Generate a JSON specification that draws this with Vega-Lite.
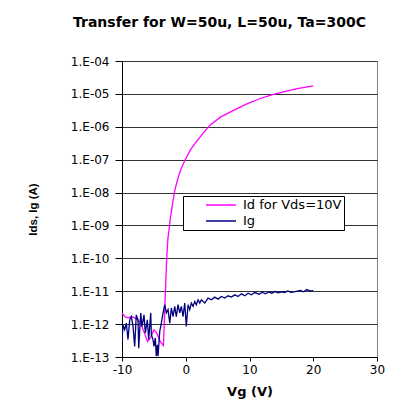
{
  "$schema": "https://vega.github.io/schema/vega-lite/v6.json",
  "width": 255,
  "height": 296,
  "autosize": {"type": "none"},
  "padding": {"left": 122, "top": 61, "right": 43, "bottom": 49},
  "background": "#ffffff",
  "title": {
    "text": "Transfer for W=50u, L=50u, Ta=300C",
    "font": "DejaVu Sans",
    "fontSize": 14,
    "fontWeight": "bold",
    "color": "#000000",
    "anchor": "middle",
    "frame": "group",
    "dx": -30,
    "offset": 14,
    "baseline": "alphabetic"
  },
  "data": {
    "values": [
      {"series": "Id for Vds=10V", "Vg": -10, "I": 2.19e-12},
      {"series": "Id for Vds=10V", "Vg": -9.5, "I": 1.66e-12},
      {"series": "Id for Vds=10V", "Vg": -9.0, "I": 1.55e-12},
      {"series": "Id for Vds=10V", "Vg": -8.5, "I": 1.70e-12},
      {"series": "Id for Vds=10V", "Vg": -8.0, "I": 1.55e-12},
      {"series": "Id for Vds=10V", "Vg": -7.5, "I": 1.35e-12},
      {"series": "Id for Vds=10V", "Vg": -7.0, "I": 9.55e-13},
      {"series": "Id for Vds=10V", "Vg": -6.5, "I": 5.50e-13},
      {"series": "Id for Vds=10V", "Vg": -6.0, "I": 2.95e-13},
      {"series": "Id for Vds=10V", "Vg": -5.5, "I": 3.89e-13},
      {"series": "Id for Vds=10V", "Vg": -5.0, "I": 6.76e-13},
      {"series": "Id for Vds=10V", "Vg": -4.5, "I": 5.13e-13},
      {"series": "Id for Vds=10V", "Vg": -4.0, "I": 2.95e-13},
      {"series": "Id for Vds=10V", "Vg": -3.5, "I": 2.24e-13},
      {"series": "Id for Vds=10V", "Vg": -3.3, "I": 2.51e-12},
      {"series": "Id for Vds=10V", "Vg": -3.0, "I": 8.91e-11},
      {"series": "Id for Vds=10V", "Vg": -2.8, "I": 3.98e-10},
      {"series": "Id for Vds=10V", "Vg": -2.6, "I": 7.94e-10},
      {"series": "Id for Vds=10V", "Vg": -2.45, "I": 1.48e-9},
      {"series": "Id for Vds=10V", "Vg": -2.0, "I": 5.62e-9},
      {"series": "Id for Vds=10V", "Vg": -1.7, "I": 1.20e-8},
      {"series": "Id for Vds=10V", "Vg": -1.3, "I": 2.40e-8},
      {"series": "Id for Vds=10V", "Vg": -0.9, "I": 4.27e-8},
      {"series": "Id for Vds=10V", "Vg": -0.5, "I": 6.61e-8},
      {"series": "Id for Vds=10V", "Vg": -0.1, "I": 9.77e-8},
      {"series": "Id for Vds=10V", "Vg": 0.7, "I": 1.95e-7},
      {"series": "Id for Vds=10V", "Vg": 1.5, "I": 3.16e-7},
      {"series": "Id for Vds=10V", "Vg": 2.2, "I": 4.79e-7},
      {"series": "Id for Vds=10V", "Vg": 3.0, "I": 7.41e-7},
      {"series": "Id for Vds=10V", "Vg": 3.8, "I": 1.12e-6},
      {"series": "Id for Vds=10V", "Vg": 5.5, "I": 2.0e-6},
      {"series": "Id for Vds=10V", "Vg": 7.5, "I": 3.16e-6},
      {"series": "Id for Vds=10V", "Vg": 9.5, "I": 4.90e-6},
      {"series": "Id for Vds=10V", "Vg": 11.7, "I": 7.24e-6},
      {"series": "Id for Vds=10V", "Vg": 13.5, "I": 9.33e-6},
      {"series": "Id for Vds=10V", "Vg": 15.3, "I": 1.15e-5},
      {"series": "Id for Vds=10V", "Vg": 17.5, "I": 1.45e-5},
      {"series": "Id for Vds=10V", "Vg": 20.0, "I": 1.74e-5},
      {"series": "Ig", "Vg": -10.0, "I": 2.95e-13},
      {"series": "Ig", "Vg": -9.84, "I": 9.55e-13},
      {"series": "Ig", "Vg": -9.58, "I": 6.76e-13},
      {"series": "Ig", "Vg": -9.32, "I": 1.07e-12},
      {"series": "Ig", "Vg": -9.06, "I": 3.39e-13},
      {"series": "Ig", "Vg": -8.79, "I": 1.35e-12},
      {"series": "Ig", "Vg": -8.54, "I": 1.70e-12},
      {"series": "Ig", "Vg": -8.27, "I": 8.51e-13},
      {"series": "Ig", "Vg": -8.01, "I": 2.09e-13},
      {"series": "Ig", "Vg": -7.76, "I": 1.91e-12},
      {"series": "Ig", "Vg": -7.49, "I": 1.35e-12},
      {"series": "Ig", "Vg": -7.38, "I": 1.86e-13},
      {"series": "Ig", "Vg": -7.06, "I": 2.19e-12},
      {"series": "Ig", "Vg": -6.86, "I": 8.51e-13},
      {"series": "Ig", "Vg": -6.55, "I": 1.91e-12},
      {"series": "Ig", "Vg": -6.34, "I": 5.37e-13},
      {"series": "Ig", "Vg": -6.03, "I": 1.35e-12},
      {"series": "Ig", "Vg": -5.81, "I": 3.39e-13},
      {"series": "Ig", "Vg": -5.49, "I": 2.19e-12},
      {"series": "Ig", "Vg": -5.40, "I": 4.79e-13},
      {"series": "Ig", "Vg": -5.13, "I": 3.39e-13},
      {"series": "Ig", "Vg": -4.98, "I": 2.09e-13},
      {"series": "Ig", "Vg": -4.77, "I": 3.80e-13},
      {"series": "Ig", "Vg": -4.62, "I": 1.05e-13},
      {"series": "Ig", "Vg": -4.46, "I": 2.34e-13},
      {"series": "Ig", "Vg": -4.35, "I": 1.05e-13},
      {"series": "Ig", "Vg": -4.08, "I": 6.03e-13},
      {"series": "Ig", "Vg": -3.83, "I": 1.07e-12},
      {"series": "Ig", "Vg": -3.56, "I": 2.19e-12},
      {"series": "Ig", "Vg": -3.30, "I": 3.89e-12},
      {"series": "Ig", "Vg": -3.05, "I": 2.19e-12},
      {"series": "Ig", "Vg": -2.78, "I": 2.75e-12},
      {"series": "Ig", "Vg": -2.51, "I": 1.07e-12},
      {"series": "Ig", "Vg": -2.26, "I": 3.09e-12},
      {"series": "Ig", "Vg": -1.99, "I": 1.70e-12},
      {"series": "Ig", "Vg": -1.73, "I": 3.47e-12},
      {"series": "Ig", "Vg": -1.48, "I": 1.70e-12},
      {"series": "Ig", "Vg": -1.21, "I": 3.89e-12},
      {"series": "Ig", "Vg": -0.94, "I": 2.19e-12},
      {"series": "Ig", "Vg": -0.69, "I": 3.47e-12},
      {"series": "Ig", "Vg": -0.42, "I": 1.70e-12},
      {"series": "Ig", "Vg": -0.16, "I": 4.37e-12},
      {"series": "Ig", "Vg": 0.09, "I": 8.51e-13},
      {"series": "Ig", "Vg": 0.36, "I": 3.89e-12},
      {"series": "Ig", "Vg": 0.63, "I": 2.75e-12},
      {"series": "Ig", "Vg": 0.88, "I": 4.37e-12},
      {"series": "Ig", "Vg": 1.15, "I": 3.47e-12},
      {"series": "Ig", "Vg": 1.41, "I": 4.90e-12},
      {"series": "Ig", "Vg": 1.66, "I": 3.89e-12},
      {"series": "Ig", "Vg": 1.93, "I": 5.50e-12},
      {"series": "Ig", "Vg": 2.20, "I": 4.37e-12},
      {"series": "Ig", "Vg": 2.45, "I": 5.50e-12},
      {"series": "Ig", "Vg": 2.98, "I": 4.37e-12},
      {"series": "Ig", "Vg": 3.50, "I": 6.17e-12},
      {"series": "Ig", "Vg": 4.02, "I": 5.50e-12},
      {"series": "Ig", "Vg": 4.55, "I": 6.61e-12},
      {"series": "Ig", "Vg": 5.07, "I": 5.75e-12},
      {"series": "Ig", "Vg": 5.59, "I": 6.92e-12},
      {"series": "Ig", "Vg": 6.12, "I": 6.17e-12},
      {"series": "Ig", "Vg": 6.64, "I": 7.24e-12},
      {"series": "Ig", "Vg": 7.16, "I": 6.61e-12},
      {"series": "Ig", "Vg": 7.69, "I": 7.76e-12},
      {"series": "Ig", "Vg": 8.21, "I": 6.92e-12},
      {"series": "Ig", "Vg": 8.73, "I": 8.32e-12},
      {"series": "Ig", "Vg": 9.26, "I": 7.24e-12},
      {"series": "Ig", "Vg": 9.78, "I": 8.71e-12},
      {"series": "Ig", "Vg": 10.30, "I": 7.76e-12},
      {"series": "Ig", "Vg": 10.83, "I": 9.12e-12},
      {"series": "Ig", "Vg": 11.5, "I": 8.13e-12},
      {"series": "Ig", "Vg": 12.0, "I": 9.33e-12},
      {"series": "Ig", "Vg": 12.5, "I": 8.32e-12},
      {"series": "Ig", "Vg": 13.0, "I": 9.55e-12},
      {"series": "Ig", "Vg": 13.5, "I": 8.71e-12},
      {"series": "Ig", "Vg": 14.0, "I": 9.77e-12},
      {"series": "Ig", "Vg": 14.5, "I": 8.91e-12},
      {"series": "Ig", "Vg": 15.0, "I": 9.55e-12},
      {"series": "Ig", "Vg": 15.5, "I": 9.12e-12},
      {"series": "Ig", "Vg": 16.0, "I": 1.02e-11},
      {"series": "Ig", "Vg": 16.5, "I": 9.33e-12},
      {"series": "Ig", "Vg": 17.0, "I": 9.55e-12},
      {"series": "Ig", "Vg": 17.5, "I": 1.0e-11},
      {"series": "Ig", "Vg": 18.0, "I": 1.05e-11},
      {"series": "Ig", "Vg": 18.5, "I": 9.55e-12},
      {"series": "Ig", "Vg": 19.0, "I": 1.12e-11},
      {"series": "Ig", "Vg": 19.5, "I": 1.02e-11},
      {"series": "Ig", "Vg": 20.0, "I": 1.05e-11}
    ]
  },
  "mark": {"type": "line", "strokeWidth": 1.3, "clip": true},
  "encoding": {
    "x": {
      "field": "Vg",
      "type": "quantitative",
      "scale": {"domain": [-10, 30], "nice": false, "zero": false},
      "axis": {
        "values": [-10, 0, 10, 20, 30],
        "labelExpr": "'' + datum.value",
        "title": "Vg (V)",
        "grid": false,
        "domainColor": "#000000",
        "tickColor": "#000000",
        "tickSize": 4,
        "labelFontSize": 12,
        "labelColor": "#000000",
        "labelPadding": 3,
        "labelFlush": false,
        "titleFontSize": 13,
        "titleFontWeight": "bold",
        "titleColor": "#000000",
        "titleBaseline": "alphabetic",
        "titleY": 38
      }
    },
    "y": {
      "field": "I",
      "type": "quantitative",
      "scale": {"type": "log", "domain": [1e-13, 1e-4], "nice": false},
      "axis": {
        "values": [1e-13, 1e-12, 1e-11, 1e-10, 1e-9, 1e-8, 1e-7, 1e-6, 1e-5, 1e-4],
        "labelExpr": "'1.E-' + (abs(round(log(datum.value)/LN10)) < 10 ? '0' : '') + abs(round(log(datum.value)/LN10))",
        "grid": true,
        "gridColor": "#333333",
        "gridWidth": 1,
        "domainColor": "#000000",
        "tickColor": "#000000",
        "tickSize": 7,
        "labelFontSize": 12,
        "labelColor": "#000000",
        "labelPadding": 6,
        "labelFlush": false,
        "title": "Ids, Ig (A)",
        "titleFont": "Liberation Sans",
        "titleFontSize": 11.5,
        "titleFontWeight": "bold",
        "titleColor": "#000000",
        "titleX": -89,
        "titleBaseline": "middle"
      }
    },
    "color": {
      "field": "series",
      "type": "nominal",
      "scale": {"domain": ["Id for Vds=10V", "Ig"], "range": ["#FF00FF", "#000080"]},
      "legend": {
        "orient": "none",
        "legendX": 61,
        "legendY": 135,
        "title": null,
        "strokeColor": "#000000",
        "fillColor": "#ffffff",
        "padding": 2,
        "symbolType": "stroke",
        "symbolSize": 900,
        "symbolStrokeWidth": 1.3,
        "symbolOffset": 20,
        "labelFontSize": 13,
        "labelColor": "#000000",
        "labelOffset": 6,
        "clipHeight": 14,
        "rowPadding": 2
      }
    }
  },
  "config": {
    "font": "DejaVu Sans",
    "view": {"stroke": "#808080", "strokeWidth": 1}
  }
}
